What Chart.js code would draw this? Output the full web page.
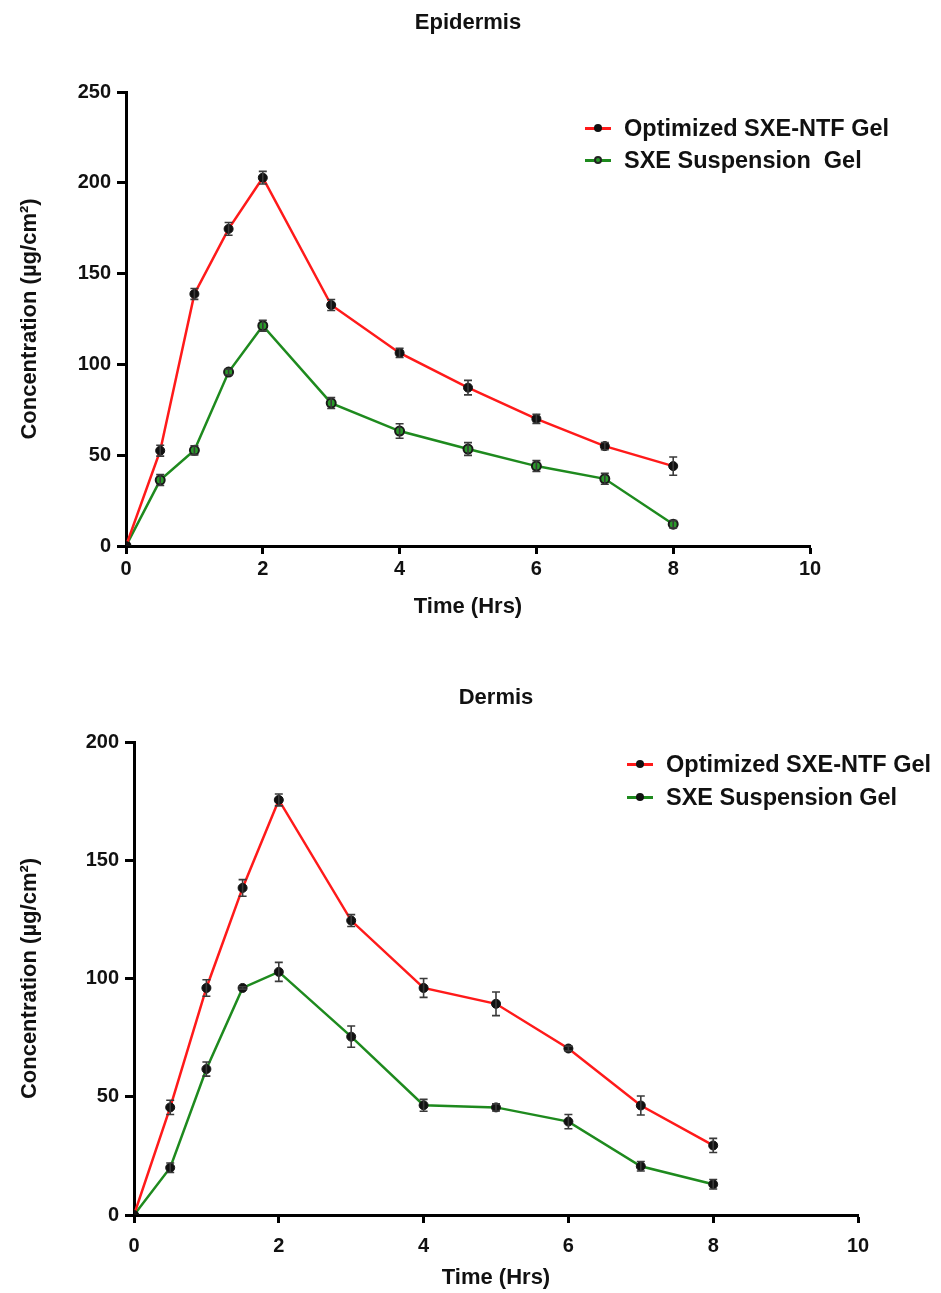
<!DOCTYPE html>
<html>
<head>
<meta charset="utf-8">
<script src="https://cdn.jsdelivr.net/npm/chart.js@4.4.1/dist/chart.umd.min.js"></script>
<style>
  html, body { margin:0; padding:0; background:#fff; }
  body { width:941px; height:1293px; position:relative; overflow:hidden; font-family:"Liberation Sans", Arial, sans-serif; }
  .box { position:absolute; left:0; width:941px; }
  .ttl { position:absolute; width:300px; text-align:center; font-weight:bold; font-size:22px; line-height:26px; color:#111; }
  .legend { position:absolute; font-weight:bold; font-size:23.5px; line-height:26px; color:#111; }
  .row { position:absolute; white-space:nowrap; display:flex; align-items:center; height:26px; }
  .mk { position:relative; width:26px; height:3px; margin-right:13px; }
  .mk span { position:absolute; left:9px; top:-3px; width:8px; height:8px; border-radius:50%; background:#111; box-sizing:border-box; }
</style>
</head>
<body>
<div class="box" style="top:0;height:640px;"><canvas id="c1" width="941" height="640"></canvas></div>
<div class="box" style="top:640px;height:653px;"><canvas id="c2" width="941" height="653"></canvas></div>

<div class="ttl" id="t1" style="left:318px;top:9px;"></div>
<div class="ttl" id="t2" style="left:346px;top:684px;"></div>

<div class="legend" style="left:585px;top:0;">
  <div class="row" style="top:115px;"><div class="mk" style="background:#ff1a1a"><span></span></div><span id="l1a"></span></div>
  <div class="row" style="top:147px;"><div class="mk" style="background:#1e8a1e"><span style="background:#2a9a2a;border:2px solid #222"></span></div><span id="l1b"></span></div>
</div>
<div class="legend" style="left:627px;top:0;">
  <div class="row" style="top:751px;"><div class="mk" style="background:#ff1a1a"><span></span></div><span id="l2a"></span></div>
  <div class="row" style="top:784px;"><div class="mk" style="background:#1e8a1e"><span></span></div><span id="l2b"></span></div>
</div>

<script>
// ---- Data ----
const times = [0, 0.5, 1, 1.5, 2, 3, 4, 5, 6, 7, 8];

const epiNTF      = [0, 52.5, 138.8, 174.6, 202.8, 132.7, 106.3, 87.2, 70.0, 55.0, 44.0];
const epiNTFErr   = [0, 3, 3, 3.5, 3.5, 3, 2.5, 4, 2.5, 2, 5];
const epiSusp     = [0, 36.3, 52.7, 95.8, 121.3, 78.7, 63.3, 53.4, 44.0, 37.0, 12.0];
const epiSuspErr  = [0, 3, 2.5, 1.5, 3, 3, 4, 3.5, 3, 3, 2];

const dermNTF     = [0, 45.5, 96.0, 138.3, 175.5, 124.5, 96.0, 89.3, 70.4, 46.3, 29.4];
const dermNTFErr  = [0, 3, 3.5, 3.5, 2.5, 2.5, 4, 5, 1, 4, 3];
const dermSusp    = [0, 20.0, 61.7, 96.0, 102.8, 75.4, 46.4, 45.5, 39.5, 20.6, 13.0];
const dermSuspErr = [0, 2, 3, 0.5, 4, 4.5, 2.5, 1.5, 3, 2, 2];

const chartTitles = ['Epidermis', 'Dermis'];
const legendTop = ['Optimized SXE-NTF Gel', 'SXE Suspension\u00A0 Gel'];
const legendBottom = ['Optimized SXE-NTF Gel', 'SXE Suspension Gel'];
const xAxisTitle = 'Time (Hrs)';
const yAxisTitle = 'Concentration (\u00B5g/cm\u00B2)';

document.getElementById('t1').textContent = chartTitles[0];
document.getElementById('t2').textContent = chartTitles[1];
document.getElementById('l1a').textContent = legendTop[0];
document.getElementById('l1b').textContent = legendTop[1];
document.getElementById('l2a').textContent = legendBottom[0];
document.getElementById('l2b').textContent = legendBottom[1];

const FONT = '"Liberation Sans", Arial, sans-serif';
const RED = '#ff1a1a', GREEN = '#1e8a1e';

const errorBars = {
  id: 'errorBars',
  afterDatasetsDraw(chart) {
    const ctx = chart.ctx;
    const xs = chart.scales.x, ys = chart.scales.y;
    chart.data.datasets.forEach(ds => {
      if (!ds.errors) return;
      ds.data.forEach((p, i) => {
        const e = ds.errors[i];
        if (!e) return;
        const px = xs.getPixelForValue(p.x);
        const y1 = ys.getPixelForValue(p.y + e);
        const y2 = ys.getPixelForValue(p.y - e);
        ctx.save();
        ctx.strokeStyle = '#3a3a3a';
        ctx.lineWidth = 1.6;
        ctx.beginPath();
        ctx.moveTo(px, y1); ctx.lineTo(px, y2);
        ctx.moveTo(px - 4, y1); ctx.lineTo(px + 4, y1);
        ctx.moveTo(px - 4, y2); ctx.lineTo(px + 4, y2);
        ctx.stroke();
        ctx.restore();
      });
    });
  }
};

function pts(vals) { return times.map((t, i) => ({x: t, y: vals[i]})); }

function makeChart(id, cfg) {
  return new Chart(document.getElementById(id), {
    type: 'line',
    data: {
      datasets: [
        { label: cfg.names[0], data: pts(cfg.a), errors: cfg.aErr,
          borderColor: RED, borderWidth: 2.5, pointRadius: 4.5,
          pointBackgroundColor: '#111', pointBorderColor: '#111', pointBorderWidth: 1, tension: 0 },
        { label: cfg.names[1], data: pts(cfg.b), errors: cfg.bErr,
          borderColor: GREEN, borderWidth: 2.5, pointRadius: 4.5,
          pointBackgroundColor: cfg.bFill, pointBorderColor: '#1a1a1a', pointBorderWidth: cfg.bBorder, tension: 0 }
      ]
    },
    options: {
      responsive: false, animation: false,
      layout: { padding: { left: 0, right: cfg.padRight, top: cfg.padTop, bottom: 0 } },
      plugins: {
        legend: { display: false },
        tooltip: { enabled: false },
        title: { display: false }
      },
      scales: {
        x: { type: 'linear', min: 0, max: 10,
          ticks: { stepSize: 2, color: '#111', padding: cfg.xTickPad, font: { family: FONT, size: 20, weight: 'bold' } },
          grid: { drawOnChartArea: false, color: '#000', tickLength: 8, tickWidth: 3 },
          border: { color: '#000', width: 3 },
          title: { display: true, text: xAxisTitle, color: '#111', font: { family: FONT, size: 22, weight: 'bold' }, padding: { top: 0, bottom: cfg.xTitleBottom } },
          afterFit: s => { s.height = cfg.xHeight; }
        },
        y: { type: 'linear', min: 0, max: cfg.yMax,
          ticks: { stepSize: 50, color: '#111', padding: 6, font: { family: FONT, size: 20, weight: 'bold' } },
          grid: { drawOnChartArea: false, color: '#000', tickLength: 9, tickWidth: 3 },
          border: { color: '#000', width: 3 },
          title: { display: true, text: yAxisTitle, color: '#111', font: { family: FONT, size: 22, weight: 'bold' }, padding: { top: 17, bottom: 0 } },
          afterFit: s => { s.width = cfg.yWidth; }
        }
      }
    },
    plugins: [errorBars]
  });
}

makeChart('c1', { names: legendTop, a: epiNTF, aErr: epiNTFErr, b: epiSusp, bErr: epiSuspErr,
  bFill: '#2a9a2a', bBorder: 2, yMax: 250, padRight: 131, padTop: 92,
  yWidth: 126, xHeight: 94, xTitleBottom: 20, xTickPad: 3 });
makeChart('c2', { names: legendBottom, a: dermNTF, aErr: dermNTFErr, b: dermSusp, bErr: dermSuspErr,
  bFill: '#111', bBorder: 1, yMax: 200, padRight: 83, padTop: 102,
  yWidth: 134, xHeight: 78, xTitleBottom: 2, xTickPad: 11 });
</script>
</body>
</html>
